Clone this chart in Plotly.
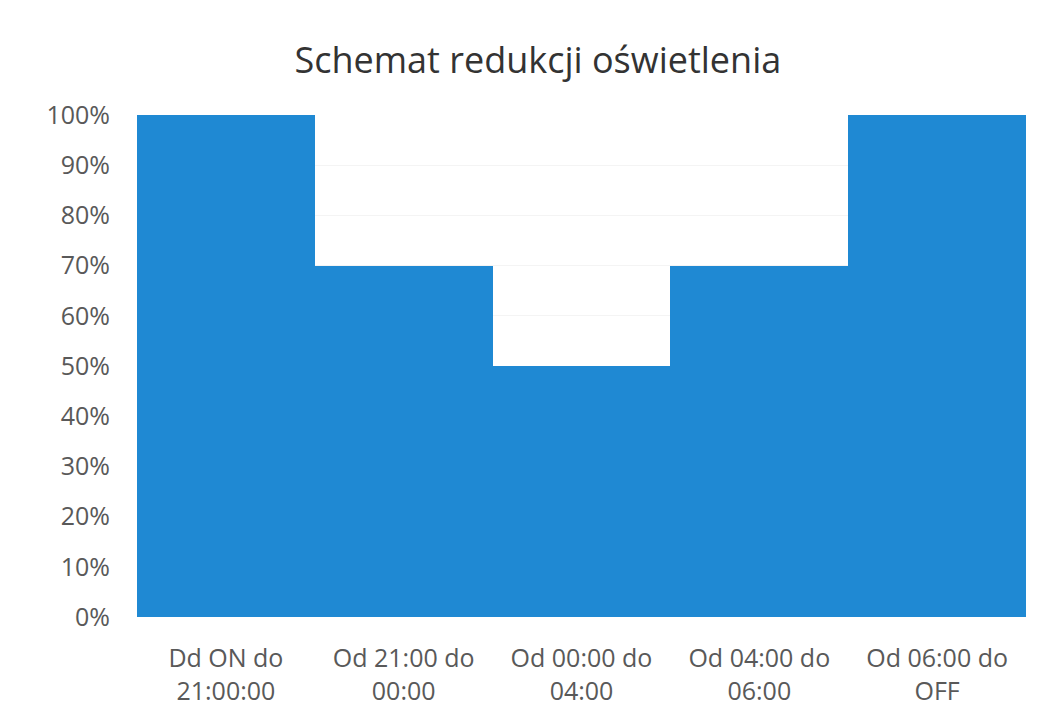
import plotly.graph_objects as go

categories = ["Dd ON do<br>21:00:00", "Od 21:00 do<br>00:00", "Od 00:00 do<br>04:00",
              "Od 04:00 do<br>06:00", "Od 06:00 do<br>OFF"]
values = [1.0, 0.7, 0.5, 0.7, 1.0]
tick_vals = [i / 10 for i in range(11)]
tick_text = [f"{i*10}%" for i in range(11)]

fig = go.Figure(go.Bar(x=categories, y=values, marker=dict(color="#1F89D3", line=dict(width=0))))

fig.update_layout(
    width=1043, height=723,
    paper_bgcolor="white", plot_bgcolor="white",
    margin=dict(l=129, r=25, t=107, b=114),
    bargap=0,
    showlegend=False,
    font=dict(family="Open Sans", color="#595959", size=25),
    title=dict(text="Schemat redukcji oświetlenia", x=0.508, xanchor="center",
               y=0.928, yanchor="middle",
               font=dict(family="Open Sans", size=36, color="#333333")),
)
fig.update_yaxes(range=[0, 1.0], tickvals=tick_vals, ticktext=tick_text,
                 showgrid=True, gridcolor="#f4f4f4", zeroline=False,
                 showline=False, ticks="", ticklabelstandoff=26)
fig.update_xaxes(showgrid=False, showline=False, ticks="", ticklabelstandoff=24)

fig.write_html("out.html")
